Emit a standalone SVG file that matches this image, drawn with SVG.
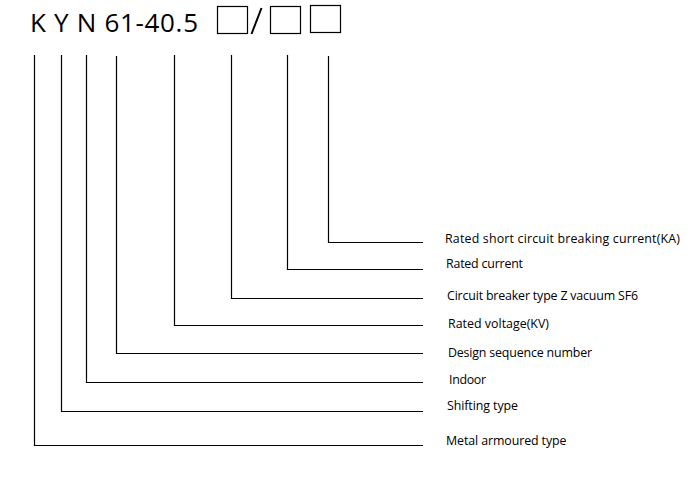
<svg xmlns="http://www.w3.org/2000/svg" width="696" height="492" viewBox="0 0 696 492">
<style>
.t{font-family:"Open Sans","Liberation Sans",sans-serif;font-size:12.4px;fill:#000}
.h{font-family:"Open Sans","Liberation Sans",sans-serif;font-size:26px;fill:#000}
.c{fill:none;stroke:#000;stroke-width:1.2}
.b{fill:#fff;stroke:#000;stroke-width:1.2}
</style>
<rect width="696" height="492" fill="#fff"/>
<g id="title">
<text class="h" x="30" y="31.5" textLength="168" lengthAdjust="spacing">K Y N 61-40.5</text>
<rect class="b" x="217.5" y="6.5" width="30" height="27"/>
<line class="c" x1="251.5" y1="34" x2="261.5" y2="8" style="stroke-width:2"/>
<rect class="b" x="270.5" y="6.5" width="30" height="27"/>
<rect class="b" x="310.5" y="5.5" width="30" height="27"/>
</g>
<g id="connectors">
<polyline class="c" points="34.5,55 34.5,445.5 423,445.5"/>
<polyline class="c" points="61.5,55 61.5,411.5 423,411.5"/>
<polyline class="c" points="86.5,55 86.5,382.5 423,382.5"/>
<polyline class="c" points="116.5,56 116.5,353.5 423,353.5"/>
<polyline class="c" points="174.5,55 174.5,325.5 423,325.5"/>
<polyline class="c" points="231.5,55 231.5,298.5 423,298.5"/>
<polyline class="c" points="287.5,55 287.5,269.5 423,269.5"/>
<polyline class="c" points="328.5,56 328.5,242.5 423,242.5"/>
</g>
<g id="n1"><text class="t" x="445" y="243" textLength="235" lengthAdjust="spacing">Rated short circuit breaking current(KA)</text></g>
<g id="n2"><text class="t" x="446" y="268" textLength="77" lengthAdjust="spacing">Rated current</text></g>
<g id="n3"><text class="t" x="447" y="300" textLength="191" lengthAdjust="spacing">Circuit breaker type Z vacuum SF6</text></g>
<g id="n4"><text class="t" x="448" y="328" textLength="101" lengthAdjust="spacing">Rated voltage(KV)</text></g>
<g id="n5"><text class="t" x="448" y="357" textLength="144" lengthAdjust="spacing">Design sequence number</text></g>
<g id="n6"><text class="t" x="449" y="384" textLength="37" lengthAdjust="spacing">Indoor</text></g>
<g id="n7"><text class="t" x="447" y="410" textLength="71" lengthAdjust="spacing">Shifting type</text></g>
<g id="n8"><text class="t" x="446" y="445" textLength="120.5" lengthAdjust="spacing">Metal armoured type</text></g>
</svg>
